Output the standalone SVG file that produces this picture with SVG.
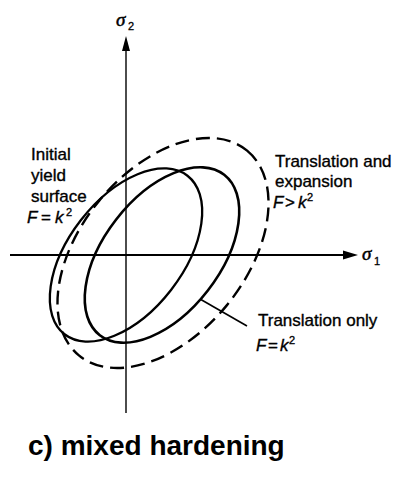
<svg xmlns="http://www.w3.org/2000/svg" width="395" height="477" viewBox="0 0 395 477">
<style>
.ax{stroke:#000;fill:none}
.ell{stroke:#000;fill:none}
.lbl{font-family:"Liberation Sans","Arial",sans-serif;font-size:17px;fill:#000;stroke:#000;stroke-width:0.35}
.it{font-style:italic}
.sup{font-size:11px}
.sig{font-family:"Liberation Serif","Times New Roman",serif;font-style:italic;font-size:19px;fill:#000;stroke:#000;stroke-width:0.5}
.sub{font-family:"Liberation Sans",sans-serif;font-size:11px;fill:#000;stroke:#000;stroke-width:0.3}
.title{font-family:"Liberation Sans","Arial",sans-serif;font-weight:bold;font-size:28px;fill:#000}
</style>
<rect width="395" height="477" fill="#fff"/>
<g id="connectors">
  <g id="axis-sigma2">
    <line class="ax" x1="126" y1="48" x2="126" y2="413" stroke-width="1.4"/>
    <polygon points="126,36 122,51 130,51" fill="#000"/>
  </g>
  <g id="axis-sigma1">
    <line class="ax" x1="10" y1="255" x2="346" y2="255" stroke-width="2.2"/>
    <polygon points="358,255 343,250.5 343,259.5" fill="#000"/>
  </g>
  <line id="leader-translation" class="ax" x1="200" y1="299" x2="247" y2="326" stroke-width="1.6"/>
</g>
<g id="curves">
  <ellipse id="initial-surface" class="ell" cx="126" cy="255" rx="100.3" ry="57" transform="rotate(-52.2 126 255)" stroke-width="2.3"/>
  <ellipse id="translated-surface" class="ell" cx="162" cy="255" rx="101.5" ry="58" transform="rotate(-52.2 162 255)" stroke-width="2.6"/>
  <ellipse id="expanded-surface" class="ell" cx="163" cy="253" rx="132.5" ry="82.5" transform="rotate(-50.6 163 253)" stroke-width="2.4" stroke-dasharray="14 7"/>
</g>
<g id="label-sigma2">
  <text class="sig" x="116" y="26">σ</text>
  <text class="sub" x="128" y="30">2</text>
</g>
<g id="label-sigma1">
  <text class="sig" x="362" y="260">σ</text>
  <text class="sub" x="374" y="265">1</text>
</g>
<g id="label-initial">
  <text class="lbl" x="31" y="160">Initial</text>
  <text class="lbl" x="31" y="181">yield</text>
  <text class="lbl" x="31" y="202">surface</text>
  <text class="lbl" y="223"><tspan class="it" x="27">F</tspan><tspan x="41">=</tspan><tspan class="it" x="55">k</tspan><tspan class="sup" x="66" dy="-7">2</tspan></text>
</g>
<g id="label-expansion">
  <text class="lbl" x="275" y="167">Translation and</text>
  <text class="lbl" x="275" y="187">expansion</text>
  <text class="lbl" y="208"><tspan class="it" x="273">F</tspan><tspan x="285">&gt;</tspan><tspan class="it" x="298">k</tspan><tspan class="sup" x="307" dy="-7">2</tspan></text>
</g>
<g id="label-translation">
  <text class="lbl" x="258" y="326">Translation only</text>
  <text class="lbl" y="351"><tspan class="it" x="256">F</tspan><tspan x="268">=</tspan><tspan class="it" x="280">k</tspan><tspan class="sup" x="289" dy="-7">2</tspan></text>
</g>
<g id="title">
  <text class="title" x="28" y="455">c) mixed hardening</text>
</g>
</svg>
